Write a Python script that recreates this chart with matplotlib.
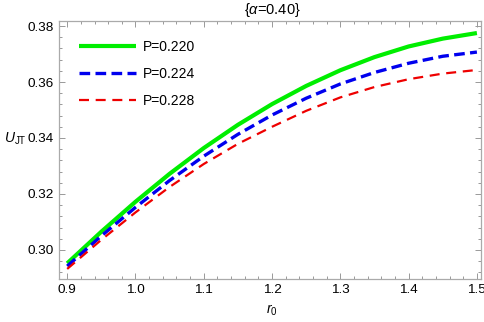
import matplotlib
matplotlib.use("Agg")
import matplotlib.pyplot as plt
from matplotlib.ticker import MultipleLocator, FormatStrFormatter

plt.rcParams['font.family'] = ['Liberation Sans', 'DejaVu Sans']
plt.rcParams['mathtext.fontset'] = 'custom'
plt.rcParams['mathtext.it'] = 'Liberation Sans:italic'
plt.rcParams['mathtext.rm'] = 'Liberation Sans'

r0 = [0.90, 0.95, 1.00, 1.05, 1.10, 1.15, 1.20, 1.25, 1.30, 1.35, 1.40, 1.45, 1.50]
u_p220 = [0.2952, 0.3065, 0.3172, 0.3272, 0.3364, 0.3447, 0.3521, 0.3586, 0.3642, 0.3689, 0.3727, 0.3755, 0.3775]
u_p224 = [0.2942, 0.3050, 0.3152, 0.3248, 0.3335, 0.3413, 0.3482, 0.3542, 0.3593, 0.3634, 0.3667, 0.3692, 0.3707]
u_p228 = [0.2932, 0.3036, 0.3134, 0.3225, 0.3307, 0.3379, 0.3440, 0.3497, 0.3545, 0.3582, 0.3610, 0.3630, 0.3643]
labels = ["P=0.220", "P=0.224", "P=0.228"]
title = r"{$\alpha$=0.40}"

fig = plt.figure(figsize=(4.84, 3.22), dpi=100)
ax = fig.add_axes([59/484, 1-279/322, (481-59)/484, (279-21)/322])

ax.plot(r0, u_p220, color='#00ee00', lw=3.0, label=labels[0], solid_capstyle='butt')
ax.plot(r0, u_p224, color='#0000ee', lw=2.4, ls=(0, (3.2, 1.6)), label=labels[1])
ax.plot(r0, u_p228, color='#ee0000', lw=1.6, ls=(0, (4.5, 3.0)), label=labels[2])

ax.set_xlim(0.888, 1.506)
ax.set_ylim(0.2896, 0.3818)
ax.xaxis.set_major_locator(MultipleLocator(0.1))
ax.xaxis.set_minor_locator(MultipleLocator(0.02))
ax.yaxis.set_major_locator(MultipleLocator(0.02))
ax.yaxis.set_minor_locator(MultipleLocator(0.004))
ax.xaxis.set_major_formatter(FormatStrFormatter('%.1f'))
ax.yaxis.set_major_formatter(FormatStrFormatter('%.2f'))
ax.tick_params(which='both', direction='in', top=True, right=True, colors='#999999',
               labelcolor='black', labelsize=9.7, width=0.7)
ax.tick_params(which='major', length=4)
ax.tick_params(axis='x', which='major', pad=3.5)
ax.tick_params(axis='y', which='major', pad=4)
ax.tick_params(which='minor', length=2)
for s in ax.spines.values():
    s.set_color('#aaaaaa')
    s.set_linewidth(0.9)

fig.text(272/484, 1-10/322, title, ha='center', va='center', fontsize=10.5)
fig.text(15/484, 1-139/322, r"$U_{\mathrm{JT}}$", ha='center', va='center', fontsize=10)
fig.text(272/484, 1-310/322, r"$r_0$", ha='center', va='center', fontsize=10)

leg = ax.legend(loc='upper left', bbox_to_anchor=(0.025, 0.965), frameon=False, fontsize=10,
                handlelength=4.1, labelspacing=0.95, handletextpad=0.5, borderaxespad=0.3)

fig.savefig("out.png", dpi=100)
